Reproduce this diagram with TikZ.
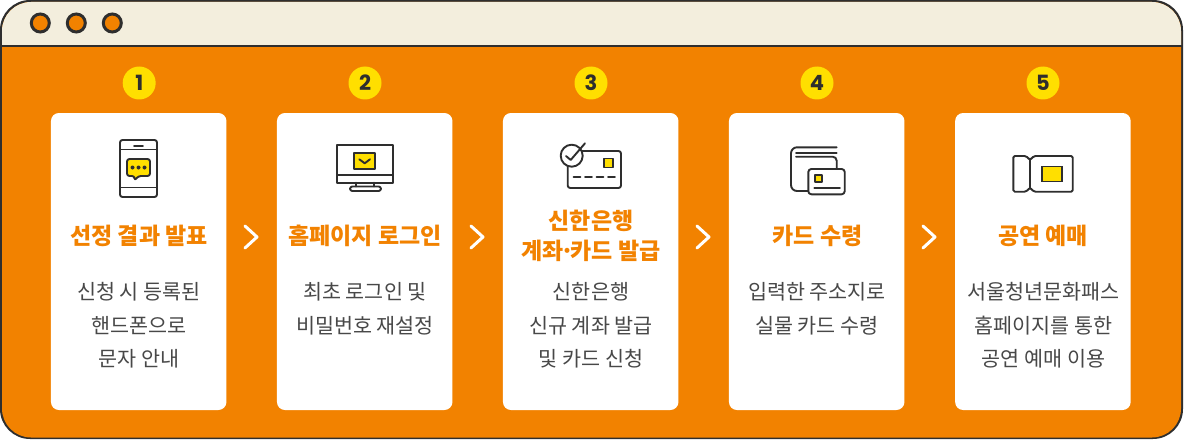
\documentclass[tikz,border=0pt]{standalone}
\usepackage{fontspec}
\setmainfont{Noto Sans CJK KR}
\newfontfamily\numfont{Poppins}
\definecolor{org}{HTML}{F28200}
\definecolor{ink}{HTML}{2E2E2E}
\definecolor{bar}{HTML}{F3EEDD}
\definecolor{yel}{HTML}{FFDF00}
\definecolor{txt}{HTML}{484848}
\tikzset{
  card/.style={fill=white,rounded corners=8pt,draw=none,minimum width=175.5pt,minimum height=297pt,inner sep=0pt},
  numdot/.style={circle,fill=yel,minimum size=33pt,inner sep=0pt,font=\numfont\bfseries\fontsize{21}{21}\selectfont,text=ink},
  wdot/.style={circle,fill=org,draw=ink,line width=3pt,minimum size=18pt,inner sep=0pt},
  titletext/.style={align=center,text=org,inner sep=0pt,font=\bfseries\fontsize{23}{30}\selectfont},
  bodytext/.style={align=center,text=txt,inner sep=0pt,font=\fontsize{20.7}{33.5}\selectfont},
  ico/.style={draw=ink,line width=1.9pt,line join=round,line cap=round},
  icoy/.style={ico,fill=yel},
  chev/.style={draw=white,line width=3pt,line cap=round,line join=round},
}
\begin{document}
\begin{tikzpicture}[x=1pt,y=-1pt]
\useasboundingbox (0,0) rectangle (1195,444);
% frame
\fill[ink] (0,0) [rounded corners=30pt] -- (0,439) -- (1183,439) -- (1183,0) -- cycle;
\begin{scope}
\fill[org,rounded corners=29pt] (2,2) rectangle (1181,437.5);
\clip (0,0) rectangle (1195,46);
\fill[bar,rounded corners=29pt] (2,2) rectangle (1181,437.5);
\end{scope}
\fill[ink] (0,45) rectangle (1183,47.5);
\node[wdot] (w1) at (40.3,23) {};
\node[wdot] (w2) at (76.3,23) {};
\node[wdot] (w3) at (112.3,23) {};
% cards
\foreach \n/\x in {1/138.7,2/364.7,3/590.7,4/816.7,5/1042.9}{
  \node[card] (c\n) at (\x,261.5) {};
}
\foreach \n/\x in {1/139.2,2/365,3/591,4/817,5/1043}{
  \node[numdot] (n\n) at (\x,83) {\n};
}
% chevrons
\foreach \x in {245,471,697,923}{
  \draw[chev] (\x,226) -- ++(12,11) -- ++(-12,11);
}
% titles
\node[titletext] (t1) at (139,236) {선정 결과 발표};
\node[titletext] (t2) at (365,236) {홈페이지 로그인};
\node[titletext] (t3) at (591,236) {신한은행\\계좌\kern-3.5pt·\kern-3.5pt카드 발급};
\node[titletext] (t4) at (817.5,236) {카드 수령};
\node[titletext] (t5) at (1043,236) {공연 예매};
% bodies
\node[bodytext] (b1) at (139,325.5) {신청 시 등록된\\핸드폰으로\\문자 안내};
\node[bodytext] (b2) at (365,308.7) {최초 로그인 및\\비밀번호 재설정};
\node[bodytext] (b3) at (591,325.5) {신한은행\\신규 계좌 발급\\및 카드 신청};
\node[bodytext] (b4) at (817,308.7) {입력한 주소지로\\실물 카드 수령};
\node[bodytext] (b5) at (1043.5,325.5) {서울청년문화패스\\홈페이지를 통한\\공연 예매 이용};
% icon 1: phone
\draw[ico,rounded corners=2.5pt] (120,140) rectangle (157,197);
\draw[ico] (120,149.5) -- (157,149.5) (120,187.5) -- (157,187.5) (134,146) -- (143,146);
\draw[icoy,rounded corners=2.5pt] (127,159) -- (150,159) -- (150,176) -- (138.5,176) -- (134.5,180.5) -- (134.5,176) -- (127,176) -- cycle;
\fill[ink] (132.5,167.5) circle (2pt) (138.5,167.5) circle (2pt) (144.5,167.5) circle (2pt);
% icon 2: monitor
\draw[ico] (337,145) rectangle (393,182.7);
\draw[ico] (337,175) -- (393,175) (356,182.7) -- (356,186.5) (374,182.7) -- (374,186.5);
\draw[ico,rounded corners=2.4pt] (350,186.5) rectangle (381,191);
\draw[icoy] (354,152.7) rectangle (375,169);
\draw[ico] (359.3,159.3) -- (364.7,163.3) -- (370,159.3);
% icon 3: card with check
\draw[ico,rounded corners=2.5pt] (567.7,151) rectangle (621,188);
\draw[ico,fill=white] (571.7,155.7) circle (11pt);
\draw[ico] (566,156) -- (570.7,160) -- (585,143.3);
\draw[icoy] (604,158.5) rectangle (613,167.5);
\foreach \x in {573.5,585,596.5,608}{
  \draw[ico] (\x,177.3) -- ++(7,0);
}
% icon 4: cards
\draw[ico,rounded corners=6pt] (836.7,147.3) -- (791,147.3) -- (791,191) -- (808,191);
\draw[ico] (796,153) -- (836.7,153);
\draw[ico,rounded corners=4pt] (796,156.7) -- (836.7,156.7) -- (836.7,169);
\draw[ico,fill=white,rounded corners=3pt] (808.3,169) rectangle (844.7,194.3);
\draw[icoy] (814.6,174.6) rectangle (822.4,182.4);
\draw[ico] (814.3,187.7) -- (840,187.7);
% icon 5: ticket
\draw[ico,rounded corners=1.5pt] (1013.3,156) -- (1026,156) -- (1030,160) -- (1034,156) -- (1072.7,156) -- (1072.7,191.7) -- (1034,191.7) -- (1030,187.7) -- (1026,191.7) -- (1013.3,191.7) -- cycle;
\draw[ico] (1030,160) -- (1030,187.7);
\draw[icoy,line cap=butt,line join=miter] (1042,166.5) rectangle (1062,181.5);
\end{tikzpicture}
\end{document}
